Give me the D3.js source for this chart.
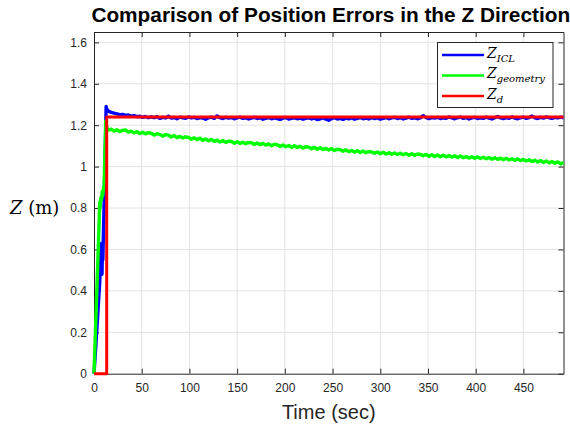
<!DOCTYPE html>
<html lang="en">
<head>
<meta charset="utf-8">
<title>Z position errors</title>
<script src="https://d3js.org/d3.v7.min.js"></script>
<style>
  body { margin: 0; background: #fff; }
  svg { display: block; }
</style>
</head>
<body>
<script>

// --- data ---
var xTicks = [0, 50, 100, 150, 200, 250, 300, 350, 400, 450];
var yTicks = [0, 0.2, 0.4, 0.6, 0.8, 1, 1.2, 1.4, 1.6];

// start-up part (sec, m)
var tStartICL = [0, 2, 4, 6, 7, 7.5, 8, 8.4, 8.8, 9.3, 9.8, 10.4, 11.2, 12.0, 12.7, 13.2, 14];
var zStartICL = [0, 0.14, 0.29, 0.44, 0.58, 0.50, 0.63, 0.48, 0.60, 0.55, 0.66, 0.78, 0.95, 1.12, 1.29, 1.28, 1.274];

var tStartGeo = [0, 2, 4, 5.5, 6, 6.5, 7, 8, 8.6, 9.2, 10, 10.6, 11.4, 12.3, 13, 13.8];
var zStartGeo = [0, 0.27, 0.54, 0.75, 0.83, 0.80, 0.85, 0.84, 0.88, 0.86, 0.90, 0.91, 1.05, 1.22, 1.20, 1.182];

// steady part, common time base
var tSteady = [
  15,18,21,24,27,30,33,36,39,42,
  45,48,51,54,57,60,63,66,69,72,
  75,78,81,84,87,90,93,96,99,102,
  105,108,111,114,117,120,123,126,129,132,
  135,138,141,144,147,150,153,156,159,162,
  165,168,171,174,177,180,183,186,189,192,
  195,198,201,204,207,210,213,216,219,222,
  225,228,231,234,237,240,243,246,249,252,
  255,258,261,264,267,270,273,276,279,282,
  285,288,291,294,297,300,303,306,309,312,
  315,318,321,324,327,330,333,336,339,342,
  345,348,351,354,357,360,363,366,369,372,
  375,378,381,384,387,390,393,396,399,402,
  405,408,411,414,417,420,423,426,429,432,
  435,438,441,444,447,450,453,456,459,462,
  465,468,471,474,477,480,483,486,489,492];

var zSteadyICL = [
  1.268,1.262,1.258,1.255,1.251,1.252,1.247,1.249,1.244,1.246,
  1.241,1.243,1.238,1.242,1.236,1.240,1.236,1.241,1.233,1.238,
  1.235,1.243,1.234,1.237,1.231,1.239,1.236,1.233,1.240,1.235,
  1.238,1.232,1.237,1.234,1.229,1.236,1.239,1.233,1.245,1.236,
  1.232,1.238,1.234,1.237,1.231,1.235,1.239,1.233,1.236,1.230,
  1.234,1.238,1.232,1.236,1.229,1.233,1.237,1.231,1.235,1.232,
  1.228,1.234,1.237,1.230,1.233,1.236,1.231,1.234,1.229,1.233,
  1.236,1.230,1.234,1.227,1.231,1.235,1.229,1.224,1.232,1.236,
  1.230,1.233,1.228,1.234,1.231,1.235,1.229,1.233,1.237,1.231,
  1.234,1.230,1.236,1.232,1.235,1.229,1.233,1.237,1.231,1.235,
  1.238,1.232,1.236,1.230,1.234,1.239,1.233,1.236,1.231,1.235,
  1.246,1.236,1.232,1.237,1.234,1.238,1.232,1.236,1.233,1.240,
  1.235,1.231,1.236,1.239,1.233,1.237,1.230,1.235,1.238,1.232,
  1.236,1.233,1.239,1.234,1.230,1.236,1.242,1.235,1.232,1.237,
  1.233,1.240,1.234,1.231,1.236,1.239,1.233,1.237,1.244,1.235,
  1.232,1.238,1.234,1.240,1.236,1.233,1.238,1.235,1.239,1.236];

var zSteadyGeo = [
  1.176,1.181,1.172,1.178,1.169,1.175,1.177,1.166,1.171,1.163,
  1.169,1.160,1.166,1.158,1.164,1.161,1.152,1.159,1.156,1.147,
  1.155,1.152,1.143,1.150,1.140,1.146,1.138,1.144,1.141,1.132,
  1.139,1.130,1.137,1.127,1.133,1.125,1.131,1.122,1.128,1.119,
  1.126,1.117,1.123,1.121,1.113,1.120,1.112,1.118,1.110,1.117,
  1.115,1.107,1.114,1.106,1.112,1.104,1.110,1.101,1.108,1.106,
  1.097,1.104,1.096,1.102,1.093,1.101,1.092,1.098,1.090,1.096,
  1.094,1.086,1.093,1.084,1.091,1.082,1.088,1.080,1.087,1.078,
  1.084,1.082,1.074,1.081,1.072,1.078,1.070,1.077,1.068,1.075,
  1.067,1.073,1.071,1.064,1.071,1.062,1.069,1.061,1.067,1.060,
  1.066,1.058,1.065,1.057,1.063,1.055,1.062,1.054,1.061,1.059,
  1.052,1.059,1.050,1.057,1.049,1.056,1.048,1.055,1.047,1.053,
  1.046,1.052,1.044,1.051,1.043,1.049,1.041,1.048,1.040,1.047,
  1.039,1.045,1.038,1.044,1.036,1.043,1.035,1.041,1.033,1.040,
  1.032,1.038,1.030,1.037,1.029,1.035,1.027,1.033,1.024,1.031,
  1.022,1.029,1.020,1.027,1.018,1.025,1.016,1.023,1.013,1.020];

// desired height (step)
var tDesired = [0, 13.3, 13.3, 492];
var zDesired = [0, 0, 1.24, 1.24];

var seriesNames = ["ICL", "geometry", "d"];
var seriesColors = ["#0000ff", "#00ff00", "#ff0000"];
var seriesWidths = [3.4, 3.4, 3];

// --- layout ---
var W = 570, H = 431;
var pL = 94, pR = 563.5, pT = 32, pB = 373.7;
var axisCol = "#262626";

var svg = d3.select("body").append("svg")
  .attr("width", W)
  .attr("height", H);

svg.append("rect").attr("width", W).attr("height", H).attr("fill", "#fff");

var x = d3.scaleLinear().domain([0, 492]).range([pL, pR]);
var y = d3.scaleLinear().domain([0, 1.65]).range([pB, pT]);

function pairs(ts, zs) {
  return ts.map(function(t, i) { return [t, zs[i]]; });
}

var icl = pairs(tStartICL, zStartICL).concat(pairs(tSteady, zSteadyICL));
var geo = pairs(tStartGeo, zStartGeo).concat(pairs(tSteady, zSteadyGeo));
var des = pairs(tDesired, zDesired);

// grid
var grid = svg.append("g").attr("stroke", "#e3e3e3").attr("stroke-width", 1);
grid.selectAll(".gx").data(xTicks.slice(1)).enter().append("line")
  .attr("x1", function(d){ return x(d); }).attr("x2", function(d){ return x(d); })
  .attr("y1", pT).attr("y2", pB);
grid.selectAll(".gy").data(yTicks.slice(1)).enter().append("line")
  .attr("x1", pL).attr("x2", pR)
  .attr("y1", function(d){ return y(d); }).attr("y2", function(d){ return y(d); });

// axes (ticks inside, box on)
var fmt = function(d){ return String(+d.toFixed(1)); };

var xAx = svg.append("g").attr("transform", "translate(0," + pB + ")")
  .call(d3.axisBottom(x).tickValues(xTicks).tickFormat(fmt).tickSizeInner(-5).tickSizeOuter(0).tickPadding(10));
var yAx = svg.append("g").attr("transform", "translate(" + pL + ",0)")
  .call(d3.axisLeft(y).tickValues(yTicks).tickFormat(fmt).tickSizeInner(-5).tickSizeOuter(0).tickPadding(7));
var xTop = svg.append("g").attr("transform", "translate(0," + pT + ")")
  .call(d3.axisTop(x).tickValues(xTicks).tickFormat("").tickSizeInner(-5).tickSizeOuter(0));
var yRight = svg.append("g").attr("transform", "translate(" + pR + ",0)")
  .call(d3.axisRight(y).tickValues(yTicks).tickFormat("").tickSizeInner(-5).tickSizeOuter(0));

[xAx, yAx, xTop, yRight].forEach(function(g) {
  g.select(".domain").attr("stroke", axisCol).attr("stroke-width", 1);
  g.selectAll(".tick line").attr("stroke", axisCol);
  g.selectAll(".tick text")
    .attr("fill", axisCol)
    .style("font-family", "'Liberation Sans', Arial, sans-serif")
    .style("font-size", "12px");
});
xAx.selectAll(".tick text").attr("dy", "0.71em");

// lines
var line = d3.line()
  .x(function(d){ return x(d[0]); })
  .y(function(d){ return y(d[1]); });

[icl, geo, des].forEach(function(s, i) {
  svg.append("path")
    .datum(s)
    .attr("d", line)
    .attr("fill", "none")
    .attr("stroke", seriesColors[i])
    .attr("stroke-width", seriesWidths[i])
    .attr("stroke-linejoin", "round");
});

// title
var title = svg.append("text")
  .attr("x", (pL + pR) / 2 + 2)
  .attr("y", 22)
  .attr("text-anchor", "middle")
  .attr("fill", "#000")
  .style("font-family", "'Liberation Sans', Arial, sans-serif")
  .style("font-weight", "bold")
  .style("font-size", "16px")
  .text("Comparison of Position Errors in the Z Direction");
var tl = title.node().getComputedTextLength();
title.style("font-size", (16 * 479 / tl).toFixed(2) + "px");

// x label
svg.append("text")
  .attr("x", (pL + pR) / 2)
  .attr("y", 419)
  .attr("text-anchor", "middle")
  .attr("fill", axisCol)
  .style("font-family", "'Liberation Sans', Arial, sans-serif")
  .style("font-size", "20px")
  .text("Time (sec)");

// y label (latex style)
var yl = svg.append("text")
  .attr("x", 10)
  .attr("y", 214)
  .attr("fill", "#000")
  .style("font-family", "'DejaVu Serif', serif")
  .style("font-size", "18px");
yl.append("tspan").style("font-style", "italic").text("Z");
yl.append("tspan").text(" (m)");

// legend
var lg = svg.append("g");
lg.append("rect")
  .attr("x", 437.5).attr("y", 42.5)
  .attr("width", 115.5).attr("height", 65)
  .attr("fill", "#fff")
  .attr("stroke", axisCol)
  .attr("stroke-width", 1);

var legY = [55, 75.5, 96];
seriesNames.forEach(function(name, i) {
  lg.append("line")
    .attr("x1", 442).attr("x2", 484)
    .attr("y1", legY[i]).attr("y2", legY[i])
    .attr("stroke", seriesColors[i])
    .attr("stroke-width", 2.5);
  var t = lg.append("text")
    .attr("x", 487)
    .attr("y", legY[i] + 2.5)
    .attr("fill", "#000")
    .style("font-family", "'DejaVu Serif', serif")
    .style("font-style", "italic")
    .style("font-size", "14px");
  t.append("tspan").text("Z");
  t.append("tspan").attr("dy", 4).style("font-size", "10px").text(name);
});

</script>
</body>
</html>
